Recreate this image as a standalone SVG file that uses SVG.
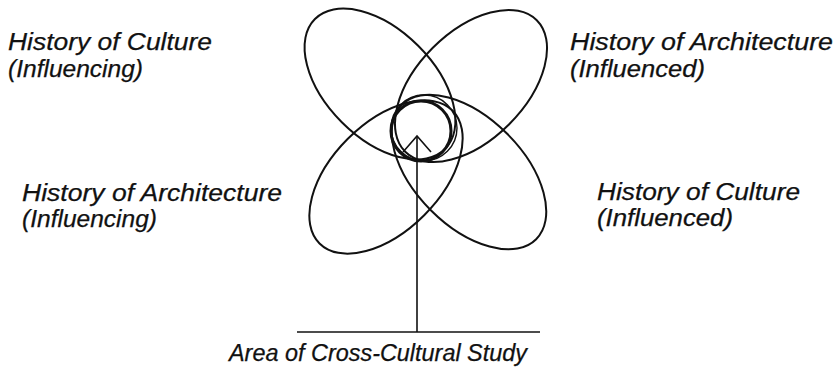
<svg xmlns="http://www.w3.org/2000/svg" width="836" height="371" viewBox="0 0 836 371">
<style>
.lbl{font-family:"Liberation Sans",Arial,sans-serif;font-style:italic;font-size:23px;fill:#111;stroke:#111;stroke-width:0.25}
.el{fill:none;stroke:#111;stroke-width:2}
.ln{fill:none;stroke:#111;stroke-width:1.6}
</style>
<rect width="836" height="371" fill="#fff"/>
<g id="ellipse-culture-influencing"><ellipse class="el" cx="380" cy="84" rx="92" ry="54" transform="rotate(45 380 84)"/></g>
<g id="ellipse-architecture-influenced"><ellipse class="el" cx="471" cy="86" rx="93" ry="54" transform="rotate(-45 471 86)"/></g>
<g id="ellipse-architecture-influencing"><ellipse class="el" cx="386" cy="177" rx="94" ry="54" transform="rotate(-45 386 177)"/></g>
<g id="ellipse-culture-influenced"><ellipse class="el" cx="469" cy="172" rx="95" ry="54" transform="rotate(45 469 172)"/></g>
<g id="core">
<circle cx="424" cy="128" r="33" fill="none" stroke="#111" stroke-width="1.4"/>
<circle cx="421" cy="131" r="30" fill="none" stroke="#111" stroke-width="3"/>
</g>
<g id="connectors">
<line class="ln" x1="297" y1="332" x2="540" y2="332"/>
<line class="ln" x1="417" y1="332" x2="417" y2="136"/>
<polyline class="ln" stroke-width="2" points="403,152 417,136 431,152"/>
</g>
<g id="label-tl"><text class="lbl" x="8" y="50" textLength="204" lengthAdjust="spacingAndGlyphs">History of Culture</text><text class="lbl" x="8" y="77" textLength="135" lengthAdjust="spacingAndGlyphs">(Influencing)</text></g>
<g id="label-tr"><text class="lbl" x="570" y="50" textLength="263" lengthAdjust="spacingAndGlyphs">History of Architecture</text><text class="lbl" x="570" y="77" textLength="135" lengthAdjust="spacingAndGlyphs">(Influenced)</text></g>
<g id="label-bl"><text class="lbl" x="22" y="201" textLength="260" lengthAdjust="spacingAndGlyphs">History of Architecture</text><text class="lbl" x="22" y="227" textLength="135" lengthAdjust="spacingAndGlyphs">(Influencing)</text></g>
<g id="label-br"><text class="lbl" x="597" y="200" textLength="203" lengthAdjust="spacingAndGlyphs">History of Culture</text><text class="lbl" x="597" y="226" textLength="136" lengthAdjust="spacingAndGlyphs">(Influenced)</text></g>
<g id="label-bottom"><text class="lbl" x="229" y="361" textLength="298" lengthAdjust="spacingAndGlyphs">Area of Cross-Cultural Study</text></g>
</svg>
